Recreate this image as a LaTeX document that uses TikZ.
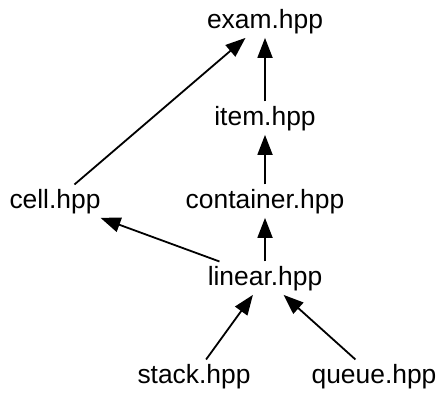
\documentclass[tikz,border=0pt]{standalone}
\usepackage{fontspec}
\setmainfont{Liberation Sans}
\usetikzlibrary{arrows.meta}

\begin{document}
\begin{tikzpicture}[x=0.5pt, y=-0.5pt,
	file/.style={anchor=base, inner sep=2pt, font=\fontsize{13.2}{15}\selectfont},
	dep/.style={-{Triangle[length=10pt, width=7.5pt]}, line width=0.9pt}]
	\useasboundingbox (0,0) rectangle (438,392);
	\node [file] (exam) at (265,28) {exam.hpp};
	\node [file] (item) at (265,125) {item.hpp};
	\node [file] (cell) at (55,208) {cell.hpp};
	\node [file] (container) at (265,208) {container.hpp};
	\node [file] (linear) at (265,285) {linear.hpp};
	\node [file] (stack) at (194,383) {stack.hpp};
	\node [file] (queue) at (374,383) {queue.hpp};
	\draw [dep] (item) -- (exam);
	\draw [dep] (cell) -- (exam);
	\draw [dep] (container) -- (item);
	\draw [dep] (linear) -- (container);
	\draw [dep] (linear) -- (cell);
	\draw [dep] (stack) -- (linear);
	\draw [dep] (queue) -- (linear);
\end{tikzpicture}
\end{document}
